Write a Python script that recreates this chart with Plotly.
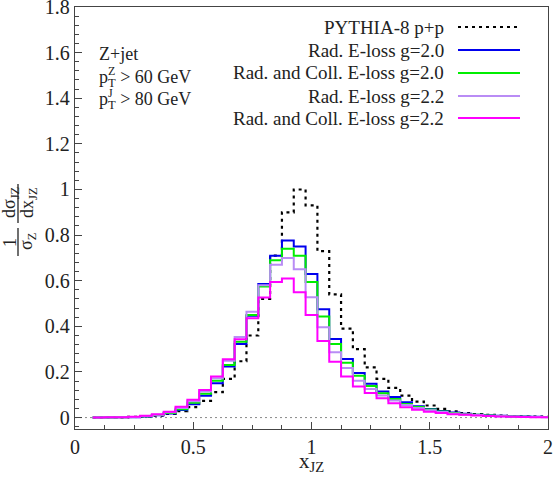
import plotly.graph_objects as go

# ---------------- data ----------------
bin_centers = [0.10, 0.15, 0.20, 0.25, 0.30, 0.35, 0.40, 0.45, 0.50, 0.55,
               0.60, 0.65, 0.70, 0.75, 0.80, 0.85, 0.90, 0.95, 1.00, 1.05,
               1.10, 1.15, 1.20, 1.25, 1.30, 1.35, 1.40, 1.45, 1.50, 1.55,
               1.60, 1.65, 1.70, 1.75, 1.80, 1.85, 1.90, 1.95, 2.00]
bin_width = 0.05

pythia_pp = [0.0, 0.0005, 0.001, 0.003, 0.005, 0.009, 0.016, 0.028, 0.046, 0.073,
             0.112, 0.17, 0.247, 0.36, 0.52, 0.71, 0.90, 1.00, 0.93, 0.73,
             0.54, 0.39, 0.30, 0.22, 0.17, 0.13, 0.096, 0.07, 0.053, 0.038,
             0.027, 0.02, 0.015, 0.012, 0.009, 0.007, 0.005, 0.004, 0.003]
rad_g20 = [0.0, 0.0005, 0.001, 0.002, 0.005, 0.01, 0.018, 0.033, 0.058, 0.096,
           0.151, 0.224, 0.323, 0.446, 0.586, 0.71, 0.776, 0.75, 0.63, 0.475,
           0.345, 0.257, 0.195, 0.148, 0.114, 0.09, 0.067, 0.05, 0.038, 0.029,
           0.022, 0.017, 0.013, 0.01, 0.008, 0.006, 0.005, 0.004, 0.003]
radcoll_g20 = [0.0, 0.0005, 0.001, 0.003, 0.006, 0.011, 0.02, 0.037, 0.065, 0.104,
               0.162, 0.231, 0.333, 0.45, 0.575, 0.69, 0.74, 0.71, 0.594, 0.443,
               0.323, 0.24, 0.183, 0.139, 0.107, 0.082, 0.06, 0.046, 0.035, 0.027,
               0.02, 0.015, 0.012, 0.009, 0.007, 0.005, 0.004, 0.003, 0.003]
rad_g22 = [0.0, 0.0005, 0.002, 0.003, 0.007, 0.012, 0.023, 0.042, 0.072, 0.114,
           0.173, 0.249, 0.353, 0.464, 0.58, 0.67, 0.70, 0.65, 0.528, 0.396,
           0.287, 0.217, 0.161, 0.125, 0.097, 0.075, 0.055, 0.042, 0.032, 0.024,
           0.018, 0.014, 0.011, 0.008, 0.006, 0.005, 0.004, 0.003, 0.002]
radcoll_g22 = [0.0, 0.001, 0.002, 0.004, 0.008, 0.015, 0.026, 0.048, 0.078, 0.121,
               0.18, 0.256, 0.344, 0.436, 0.526, 0.594, 0.61, 0.55, 0.45, 0.336,
               0.245, 0.18, 0.136, 0.108, 0.085, 0.063, 0.045, 0.034, 0.026, 0.02,
               0.015, 0.012, 0.009, 0.007, 0.005, 0.004, 0.003, 0.002, 0.002]

series_names = ["PYTHIA-8 p+p", "Rad. E-loss g=2.0", "Rad. and Coll. E-loss g=2.0",
                "Rad. E-loss g=2.2", "Rad. and Coll. E-loss g=2.2"]
series_values = [pythia_pp, rad_g20, radcoll_g20, rad_g22, radcoll_g22]
series_colors = ["#000000", "#0000ee", "#00ee00", "#b98cf5", "#ff00ff"]
series_dash = ["3px,4px", "solid", "solid", "solid", "solid"]
series_width = [2.2, 2, 2, 2, 2]

x_ticks = [0, 0.5, 1, 1.5, 2]
x_ticklabels = ["0", "0.5", "1", "1.5", "2"]
y_ticks = [0, 0.2, 0.4, 0.6, 0.8, 1, 1.2, 1.4, 1.6, 1.8]
y_ticklabels = ["0", "0.2", "0.4", "0.6", "0.8", "1", "1.2", "1.4", "1.6", "1.8"]

# ---------------- layout geometry ----------------
W, H = 553, 492
ML, MR, MT, MB = 75, 5, 7, 63
PW, PH = W - ML - MR, H - MT - MB
FONT = "Liberation Serif"
TXT = "#222222"


def px(xp):
    return (xp - ML) / PW


def py(yp):
    return (H - MB - yp) / PH


edges = [c - bin_width / 2 for c in bin_centers] + [bin_centers[-1] + bin_width / 2]

fig = go.Figure()
for name, vals, col, dash, lw in zip(series_names, series_values, series_colors,
                                     series_dash, series_width):
    fig.add_trace(go.Scatter(x=edges, y=list(vals) + [vals[-1]], mode="lines",
                             line=dict(shape="hv", color=col, width=lw, dash=dash),
                             name=name, showlegend=False, hoverinfo="skip"))

shapes = []
annotations = []

# dotted zero line
shapes.append(dict(type="line", xref="paper", yref="y", x0=0, x1=1, y0=0, y1=0,
                   line=dict(color="#888888", width=1, dash="2px,3px"), layer="below"))

# manual legend (text right-aligned, sample on the right)
leg_y = [27, 50, 73, 96, 118]
for name, col, dash, lw, yy in zip(series_names, series_colors, series_dash,
                                   series_width, leg_y):
    annotations.append(dict(x=px(446), y=py(yy), xref="paper", yref="paper",
                            text=name, showarrow=False, xanchor="right",
                            yanchor="middle",
                            font=dict(family=FONT, size=19, color=TXT)))
    shapes.append(dict(type="line", xref="paper", yref="paper",
                       x0=px(458), x1=px(520), y0=py(yy), y1=py(yy),
                       line=dict(color=col, width=lw, dash=dash)))

# left annotation block
annotations.append(dict(x=px(97), y=py(54), xref="paper", yref="paper",
                        text="Z+jet", showarrow=False, xanchor="left", yanchor="middle",
                        font=dict(family=FONT, size=18, color=TXT)))
for yy, sup, val in [(78, "Z", "60"), (100, "J", "80")]:
    annotations.append(dict(x=px(97), y=py(yy), xref="paper", yref="paper",
                            text="p<sub>T</sub> > " + val + " GeV", showarrow=False,
                            xanchor="left", yanchor="middle",
                            font=dict(family=FONT, size=18, color=TXT)))
    annotations.append(dict(x=px(106), y=py(yy - 7), xref="paper", yref="paper",
                            text=sup, showarrow=False, xanchor="left", yanchor="middle",
                            font=dict(family=FONT, size=12, color=TXT)))

# x-axis title
annotations.append(dict(x=px(311), y=py(462), xref="paper", yref="paper",
                        text="x<sub>JZ</sub>", showarrow=False, xanchor="center",
                        yanchor="middle", font=dict(family=FONT, size=21, color=TXT)))

# y-axis title as a rotated fraction
ytf = dict(family=FONT, size=18, color=TXT)
annotations += [
    dict(x=px(10), y=py(243), xref="paper", yref="paper", text="1", textangle=-90,
         showarrow=False, xanchor="center", yanchor="middle", font=ytf),
    dict(x=px(28), y=py(242), xref="paper", yref="paper", text="σ<sub>Z</sub>",
         textangle=-90, showarrow=False, xanchor="center", yanchor="middle", font=ytf),
    dict(x=px(10), y=py(203), xref="paper", yref="paper", text="dσ<sub>JZ</sub>",
         textangle=-90, showarrow=False, xanchor="center", yanchor="middle", font=ytf),
    dict(x=px(28), y=py(203), xref="paper", yref="paper", text="dx<sub>JZ</sub>",
         textangle=-90, showarrow=False, xanchor="center", yanchor="middle", font=ytf),
]
shapes += [
    dict(type="line", xref="paper", yref="paper", x0=px(18), x1=px(18),
         y0=py(228), y1=py(256), line=dict(color=TXT, width=1.3)),
    dict(type="line", xref="paper", yref="paper", x0=px(18), x1=px(18),
         y0=py(184), y1=py(223), line=dict(color=TXT, width=1.3)),
]

axis_common = dict(showline=True, linecolor="#444444", linewidth=1.3, mirror=True,
                   ticks="inside", tickcolor="#444444", ticklen=7, tickwidth=1,
                   showgrid=False, zeroline=False, ticklabeloverflow="allow",
                   automargin=False,
                   tickfont=dict(family=FONT, size=20, color=TXT))

fig.update_layout(
    width=W, height=H,
    margin=dict(l=ML, r=MR, t=MT, b=MB, autoexpand=False),
    paper_bgcolor="white", plot_bgcolor="white",
    xaxis=dict(range=[0, 2], tickvals=x_ticks, ticktext=x_ticklabels,
               minor=dict(dtick=0.125, tick0=0, ticks="inside", ticklen=4,
                          tickcolor="#444444"),
               **axis_common),
    yaxis=dict(range=[-0.05, 1.8], tickvals=y_ticks, ticktext=y_ticklabels,
               minor=dict(dtick=0.04, tick0=0, ticks="inside", ticklen=4,
                          tickcolor="#444444"),
               **axis_common),
    shapes=shapes,
    annotations=annotations,
    showlegend=False,
)

fig.write_html("out.html")
